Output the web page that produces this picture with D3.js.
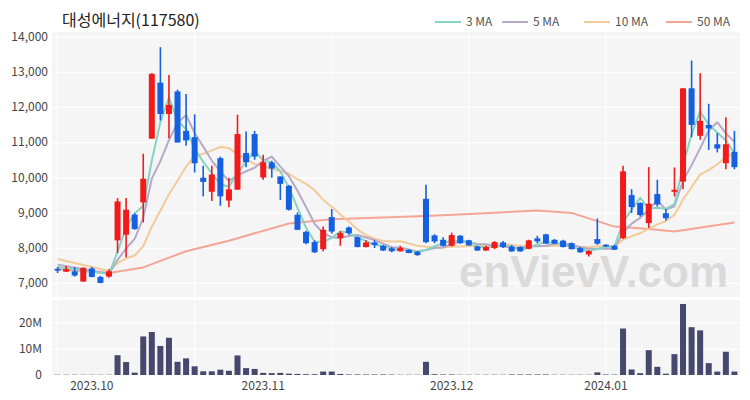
<!DOCTYPE html>
<html><head><meta charset="utf-8">
<script src="https://cdn.jsdelivr.net/npm/d3@7"></script>
<style>
body{margin:0;background:#fff}
svg{display:block}
text{font-family:"Noto Sans CJK KR","Noto Sans",sans-serif}
</style>
</head><body>
<svg id="c" width="750" height="400"></svg>
<script>
const dates = [
"2023-09-22","2023-09-25","2023-09-26","2023-09-27",
"2023-10-04","2023-10-05","2023-10-06","2023-10-10","2023-10-11","2023-10-12","2023-10-13","2023-10-16","2023-10-17","2023-10-18","2023-10-19","2023-10-20","2023-10-23","2023-10-24","2023-10-25","2023-10-26","2023-10-27","2023-10-30","2023-10-31",
"2023-11-01","2023-11-02","2023-11-03","2023-11-06","2023-11-07","2023-11-08","2023-11-09","2023-11-10","2023-11-13","2023-11-14","2023-11-15","2023-11-16","2023-11-17","2023-11-20","2023-11-21","2023-11-22","2023-11-23","2023-11-24","2023-11-27","2023-11-28","2023-11-29","2023-11-30",
"2023-12-01","2023-12-04","2023-12-05","2023-12-06","2023-12-07","2023-12-08","2023-12-11","2023-12-12","2023-12-13","2023-12-14","2023-12-15","2023-12-18","2023-12-19","2023-12-20","2023-12-21","2023-12-22","2023-12-26","2023-12-27","2023-12-28",
"2024-01-02","2024-01-03","2024-01-04","2024-01-05","2024-01-08","2024-01-09","2024-01-10","2024-01-11","2024-01-12","2024-01-15","2024-01-16","2024-01-17","2024-01-18","2024-01-19","2024-01-22","2024-01-23"];

const openP  = [7400,7320,7330,7040,7410,7170,7180,8210,8370,8940,9290,11100,12690,11800,12440,11320,11140,9990,9590,10545,9340,9650,10690,11230,9995,10420,10025,9760,8935,8450,8160,7960,8870,8270,8575,8300,8020,8150,8055,7980,7900,7940,7885,9390,8350,8225,8055,8340,8210,8035,7920,7990,8150,8035,8020,7970,8265,8380,8225,8200,8130,7990,7810,8245,8085,8055,8275,9495,9270,8700,9525,8980,9590,9880,12530,11180,11490,10940,10400,10725];
const highP  = [7450,7480,7450,7440,7450,7200,7390,9410,9410,8980,10670,12960,13700,12910,12490,12370,11790,10330,10330,10590,9990,11780,11300,11320,10640,10470,10025,9780,9000,8480,8210,8600,9100,8470,8600,8320,8210,8210,8080,8020,8055,7960,7905,9790,8380,8300,8430,8360,8225,8055,8055,8190,8190,8075,8035,8225,8340,8400,8245,8225,8150,8020,7925,8830,8100,8085,10330,9665,9290,10290,9930,9100,10280,12530,13320,12960,12090,11255,11710,11320];
const lowP   = [7280,7310,7180,7030,7160,6990,7150,7850,7730,8510,8720,11100,11615,11110,10990,10900,10140,9460,9330,9190,9150,9650,10290,10500,9930,9990,9360,9060,8500,8100,7850,7900,8400,8055,8370,8010,8010,7990,7910,7870,7890,7840,7770,8130,8130,8035,8035,8110,8060,7910,7910,7960,7990,7885,7885,7960,8130,8110,8110,8010,7950,7860,7750,8085,8030,7935,8245,8985,8890,8560,9170,8775,9460,9665,11140,11070,10780,10710,10230,10230];
const closeP = [7350,7390,7210,7430,7170,7000,7330,9315,9080,8530,9960,12940,11800,12060,10990,11050,10400,9870,10080,9460,9660,11230,10430,10590,10430,10250,9815,9080,8510,8130,7870,8510,8460,8415,8415,8020,8150,8080,7920,7900,7990,7850,7790,8160,8180,8055,8360,8130,8065,7920,8020,8160,8020,7895,7895,8210,8180,8115,8115,8020,7960,7870,7905,8115,8035,7945,10170,9155,8930,9250,9230,8840,9645,12530,11490,11605,11390,10820,10940,10290];
const volumeM = [0.1,0.1,0.1,0.1,0.1,0.1,0.1,7.5,4.9,0.9,14.6,16.3,11.0,14.1,5.0,6.3,3.3,1.4,1.4,2.0,1.6,7.4,2.6,2.3,0.8,0.7,0.8,0.5,0.4,0.3,0.3,1.3,1.3,0.4,0.2,0.2,0.2,0.2,0.2,0.15,0.1,0.1,0.1,5.0,0.3,0.2,0.2,0.1,0.1,0.1,0.1,0.1,0.1,0.2,0.2,0.2,0.2,0.2,0.1,0.1,0.1,0.1,0.1,1.0,0.2,0.15,17.6,2.1,0.7,9.4,3.1,0.5,7.9,26.9,18.1,16.9,4.5,1.3,8.8,1.3];

const ma3 = [7450,null,null,null,null,null,7250,7882,8575,8975,9190,10477,11567,12267,11617,11367,10813,10440,10117,9803,9733,10117,10440,10750,10483,10423,10165,9715,9135,8573,8170,8170,8280,8462,8430,8283,8195,8083,8050,7967,7937,7913,7877,7933,8043,8132,8198,8182,8185,8038,8002,8033,8067,8025,7937,8000,8095,8168,8137,8083,8032,7950,7912,7963,8018,8032,8717,9090,9418,9112,9137,9107,9238,10338,11222,11875,11495,11272,11050,10683];
const ma5 = [7520,null,null,null,null,null,7270,7649,7979,8251,8843,9965,10462,11058,11550,11768,11260,10874,10478,10172,9894,10060,10172,10274,10468,10586,10303,10033,9617,9157,8681,8420,8296,8277,8334,8364,8292,8216,8117,8014,8008,7948,7890,7938,7994,8007,8109,8177,8158,8106,8099,8059,8037,8003,7998,8036,8040,8059,8103,8128,8078,8016,7974,7974,7977,7974,8434,8684,8847,9090,9347,9081,9179,9899,10347,10822,11332,11567,11249,11009];
const ma10 = [7680,null,null,null,null,null,7340,7560,7700,7781,8042,8597,9056,9519,9901,10306,10613,10668,10768,10861,10831,10660,10523,10376,10320,10240,10182,10103,9946,9813,9634,9362,9165,8947,8746,8523,8356,8256,8197,8174,8186,8120,8053,8028,8004,8008,8029,8034,8048,8050,8053,8084,8107,8081,8052,8068,8050,8048,8053,8063,8057,8028,8017,8039,8053,8026,8225,8329,8411,8534,8661,8758,8932,9373,9719,10085,10207,10373,10574,10678];
const ma50Points = [[0,7390],[6,7280],[10,7440],[15,7900],[20,8200],[27,8690],[32,8810],[43,8900],[48,8955],[56,9060],[60,8990],[65,8600],[69,8530],[72,8460],[79,8720]];

const priceTicks = [7000,8000,9000,10000,11000,12000,13000,14000];
const volumeTicks = [0,10,20];
const monthTickDates = ["2023-10-04","2023-11-02","2023-12-04","2024-01-02"];
const monthTickLabels = ["2023.10","2023.11","2023.12","2024.01"];
const gridIdx = [0,16,32,48,64];
const maNames = ["3 MA","5 MA","10 MA","50 MA"];
const maColors = ["#86d3c3","#b7a8c8","#f2cb98","#f5a596"];

const svg = d3.select("#c");
const L = 52, R = 740, T = 32, B = 297, VT = 300, VB = 375;

const x = d3.scaleBand().domain(dates).range([L, R]).padding(0.3);
const cx = i => x(dates[i]) + x.bandwidth() / 2;
const y = d3.scaleLinear().domain([6600, 14130]).range([B, T]);
const yv = d3.scaleLinear().domain([0, 28.4]).range([VB, VT]);

// panels
svg.append("rect").attr("x", L).attr("y", T).attr("width", R - L).attr("height", B - T).attr("fill", "#f5f5f6");
svg.append("rect").attr("x", L).attr("y", VT).attr("width", R - L).attr("height", VB - VT).attr("fill", "#f5f5f6");

// vertical grid
svg.append("g").selectAll("line").data(gridIdx).join("line")
  .attr("x1", d => cx(d)).attr("x2", d => cx(d)).attr("y1", T).attr("y2", B)
  .attr("stroke", "#fff").attr("stroke-width", 1);
svg.append("g").selectAll("line").data(gridIdx).join("line")
  .attr("x1", d => cx(d)).attr("x2", d => cx(d)).attr("y1", VT).attr("y2", VB)
  .attr("stroke", "#fff").attr("stroke-width", 1);

// price axis
const ya = svg.append("g").attr("transform", `translate(${L},0)`)
  .call(d3.axisLeft(y).tickValues(priceTicks).tickSize(-(R - L)).tickPadding(4).tickFormat(d3.format(",")));
ya.select(".domain").remove();
ya.selectAll("line").attr("stroke", "#fff").attr("stroke-width", 1.2);
ya.selectAll("text").attr("fill", "#444").style("font-size", "12px");

// volume axis
const va = svg.append("g").attr("transform", `translate(${L},0)`)
  .call(d3.axisLeft(yv).tickValues(volumeTicks).tickSize(-(R - L)).tickPadding(10).tickFormat(d => d === 0 ? "0" : d + "M"));
va.select(".domain").remove();
va.selectAll("line").attr("stroke", "#fff").attr("stroke-width", 1.2);
va.selectAll("text").attr("fill", "#444").style("font-size", "12px");

// x axis
const xa = svg.append("g").attr("transform", `translate(0,${VB})`)
  .call(d3.axisBottom(x).tickValues(monthTickDates).tickSize(0).tickPadding(6)
    .tickFormat(d => monthTickLabels[monthTickDates.indexOf(d)]));
xa.select(".domain").remove();
xa.selectAll("text").attr("fill", "#444").style("font-size", "12px");

// watermark
svg.append("text").attr("x", 459).attr("y", 287).text("enVievV.com")
  .style("font-family", "'Liberation Sans',Arial,sans-serif").style("font-weight", "bold")
  .style("font-size", "44px").attr("fill", "#d6d6d6").attr("opacity", 0.85);

// MA lines
const mkLine = d3.line().x(d => cx(d[0])).y(d => y(d[1]));
const toPts = arr => arr.map((v, i) => [i, v]).filter(d => d[1] != null);
const maSeries = [ma50Points, toPts(ma10), toPts(ma5), toPts(ma3)];
const maCol = [maColors[3], maColors[2], maColors[1], maColors[0]];
maSeries.forEach((pts, k) => {
  svg.append("path").datum(pts).attr("d", mkLine).attr("fill", "none")
    .attr("stroke", maCol[k]).attr("stroke-width", 2).attr("stroke-linejoin", "round");
});

// candles
const up = "#f21a1a", down = "#1460e0";
const cg = svg.append("g");
dates.forEach((d, i) => {
  const col = closeP[i] >= openP[i] ? up : down;
  cg.append("line").attr("x1", cx(i)).attr("x2", cx(i))
    .attr("y1", y(highP[i])).attr("y2", y(lowP[i])).attr("stroke", col).attr("stroke-width", 1.6);
  const top = y(Math.max(openP[i], closeP[i])), bot = y(Math.min(openP[i], closeP[i]));
  cg.append("rect").attr("x", x(d)).attr("width", x.bandwidth())
    .attr("y", top).attr("height", Math.max(1.5, bot - top)).attr("fill", col);
});

// volume bars
svg.append("g").selectAll("rect").data(dates).join("rect")
  .attr("x", d => x(d)).attr("width", x.bandwidth())
  .attr("y", (d, i) => yv(volumeM[i])).attr("height", (d, i) => VB - yv(volumeM[i]))
  .attr("fill", "#46486e");

// title
svg.append("text").attr("x", 62).attr("y", 26).text("대성에너지(117580)")
  .style("font-size", "16px").attr("fill", "#222");

// legend
const legX = [435, 502, 584, 666];
const lg = svg.append("g");
maNames.forEach((n, i) => {
  lg.append("line").attr("x1", legX[i]).attr("x2", legX[i] + 26).attr("y1", 22).attr("y2", 22)
    .attr("stroke", maColors[i]).attr("stroke-width", 2);
  lg.append("text").attr("x", legX[i] + 31).attr("y", 26).text(n)
    .style("font-size", "12px").attr("fill", "#555");
});
</script>
</body></html>
